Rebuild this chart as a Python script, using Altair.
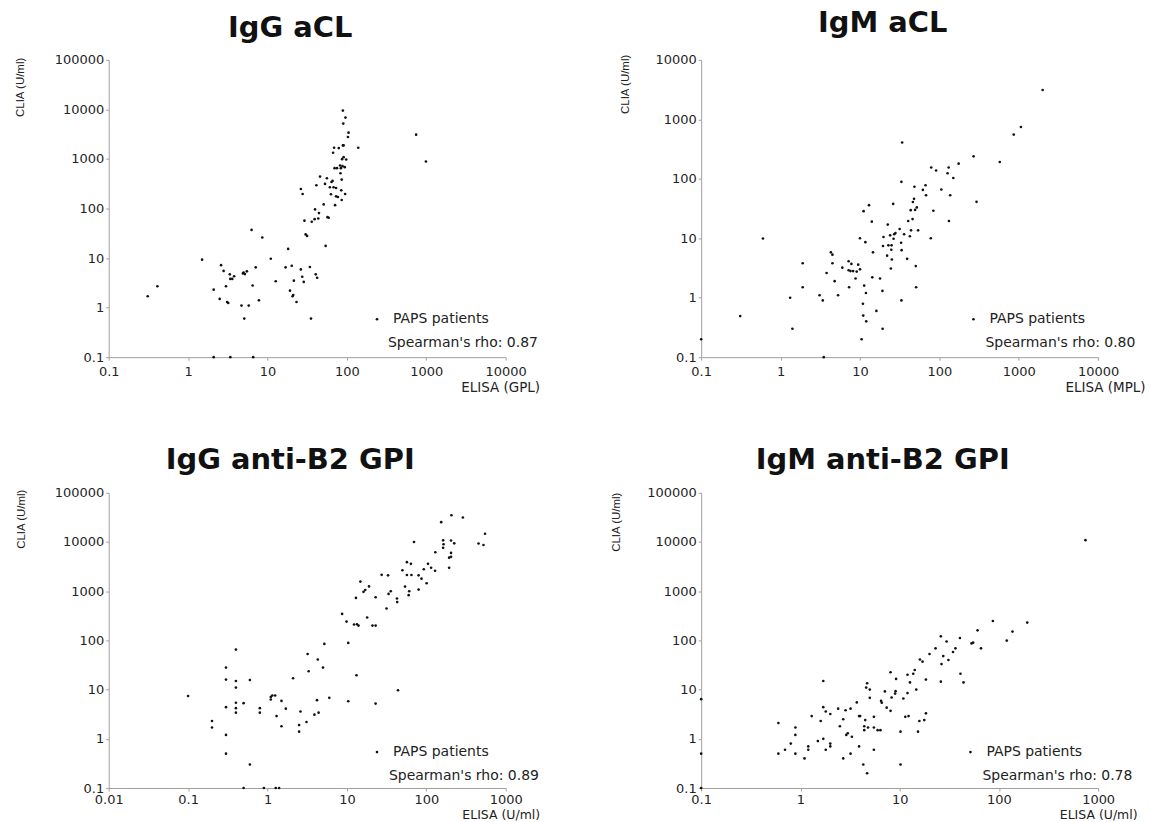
import altair as alt
import pandas as pd

# ---------------- data ----------------
legend_label = "PAPS patients"
y_title = "CLIA (U/ml)"
panel_titles = ["IgG aCL", "IgM aCL", "IgG anti-B2 GPI", "IgM anti-B2 GPI"]
x_titles = ["ELISA (GPL)", "ELISA (MPL)", "ELISA (U/ml)", "ELISA (U/ml)"]
rho_labels = ["Spearman's rho: 0.87", "Spearman's rho: 0.80",
              "Spearman's rho: 0.89", "Spearman's rho: 0.78"]

x_ticks_1 = [0.1, 1, 10, 100, 1000, 10000]
x_ticks_2 = [0.1, 1, 10, 100, 1000, 10000]
x_ticks_3 = [0.01, 0.1, 1, 10, 100, 1000]
x_ticks_4 = [0.1, 1, 10, 100, 1000]
y_ticks_1 = [0.1, 1, 10, 100, 1000, 10000, 100000]
y_ticks_2 = [0.1, 1, 10, 100, 1000, 10000]
y_ticks_3 = [0.1, 1, 10, 100, 1000, 10000, 100000]
y_ticks_4 = [0.1, 1, 10, 100, 1000, 10000, 100000]

igg_acl_elisa = [0.31, 0.41, 1.5, 2.1, 2.5, 2.6, 2.8, 3.0, 3.1, 3.2,
                 3.35, 3.4, 3.6, 3.8, 4.7, 4.9, 5.0, 5.2, 5.5, 5.8,
                 5.1, 6.3, 6.5, 6.6, 7.1, 7.8, 8.6, 11, 12.7, 16.9,
                 18.2, 19.2, 20.2, 20.7, 21.1, 21.5, 23.2, 26.3, 26.3, 27.7,
                 27.4, 28.6, 29.2, 30.2, 31.5, 34.2, 35.3, 36.1, 39.2, 39.7,
                 40.5, 41.3, 42.2, 43.6, 44.5, 45.9, 51, 53, 54, 56,
                 57, 59, 61, 63, 64, 66, 67, 68, 69, 70,
                 71, 73, 73, 75, 77, 79, 82, 83, 84, 85,
                 86, 86, 87, 88, 89, 89, 90, 91, 91, 94,
                 95, 96, 98, 103, 105, 139, 745, 990, 2.1, 3.4]
igg_acl_clia = [1.7, 2.7, 9.3, 2.3, 1.5, 7.2, 5.5, 2.7, 1.3, 1.24,
                4.7, 3.8, 3.8, 4.3, 1.1, 4.9, 5.1, 4.75, 5.4, 1.1,
                0.6, 37, 2.8, 0.1, 6.5, 1.4, 26, 9.7, 3.4, 6.5,
                15.3, 2.2, 7.0, 1.7, 1.8, 3.5, 1.3, 248, 5.9, 197,
                4.2, 3.3, 57, 30, 28, 6.6, 0.6, 54, 61, 96,
                4.7, 295, 4.0, 63, 81, 442, 121, 314, 17.6, 409,
                67, 65, 269, 194, 344, 361, 1336, 269, 1688, 653,
                117, 176, 260, 653, 171, 1663, 739, 516, 653, 233,
                149, 384, 994, 716, 9500, 1883, 5180, 1883, 1090, 684,
                197, 6860, 979, 2780, 3400, 1688, 3100, 891, 0.1, 0.1]

igm_acl_elisa = [0.1, 0.31, 0.6, 1.32, 1.41, 1.9, 1.9, 3.1, 3.4, 3.5,
                 3.8, 4.3, 4.5, 4.5, 4.8, 5.3, 6.0, 7.2, 7.2, 7.3,
                 7.6, 7.8, 8.2, 8.8, 9.1, 9.5, 10, 10, 10.9, 11,
                 10.5, 11.1, 11.3, 11.9, 11.7, 12, 13, 14.1, 14.3, 14.6,
                 16.1, 17.9, 19.2, 19.3, 19.5, 19.8, 22, 22.4, 22.8, 24,
                 24.5, 24.8, 25, 25.2, 26.2, 26.5, 27, 28, 31.6, 33,
                 33.5, 33.3, 33.3, 34, 36, 39.3, 40.5, 42.5, 43.6, 44,
                 46, 46.4, 48, 48.5, 49.5, 50.5, 51, 52, 54, 62,
                 67, 68, 78, 79, 84, 91, 106, 127, 131, 132,
                 137, 150, 175, 270, 294, 577, 865, 1065, 2000]
igm_acl_clia = [0.2, 0.49, 9.9, 1.0, 0.3, 3.8, 1.5, 1.1, 0.9, 0.1,
                2.6, 5.8, 5.3, 3.8, 1.9, 1.1, 3.2, 4.1, 2.9, 1.5,
                2.8, 3.7, 2.8, 2.1, 2.75, 3.6, 10, 3.0, 0.79, 0.5,
                0.2, 28.6, 1.6, 1.2, 8.6, 0.4, 36, 19, 2.2, 5.8,
                0.6, 2.1, 1.3, 0.3, 7.4, 10.5, 5.1, 17, 7.6, 11.2,
                3.1, 6.4, 7.6, 4.4, 37.8, 9.8, 11.7, 12.2, 14.3, 8.4,
                6.3, 89, 0.9, 408, 11.7, 4.5, 19.5, 10.8, 29.7, 13.6,
                21, 40.8, 46, 73.6, 30, 3.4, 1.5, 33, 13.6, 65,
                78, 53, 10, 155, 29, 138, 66, 124, 155, 19.5,
                53, 103, 180, 239, 41, 192, 555, 745, 3120]

igg_gpi_elisa = [0.1, 0.2, 0.2, 0.3, 0.3, 0.3, 0.3, 0.3, 0.4, 0.4,
                 0.4, 0.4, 0.4, 0.4, 0.5, 0.5, 0.6, 0.6, 0.8, 0.8,
                 0.9, 1.1, 1.15, 1.1, 1.25, 1.27, 1.3, 1.4, 1.5, 1.5,
                 1.7, 2.1, 2.5, 2.5, 2.6, 3.1, 3.2, 3.3, 3.9, 4.2,
                 4.3, 4.4, 5.0, 5.2, 6.0, 8.7, 9.9, 10.4, 10.4, 12.3,
                 13, 13.2, 13.4, 14, 14.8, 16.2, 17, 18, 19, 21,
                 23, 23, 23, 27.4, 33, 31.6, 33.5, 35.7, 42.7, 43,
                 44, 50, 54, 57, 57, 61, 60, 64, 65, 70,
                 80, 80, 87, 93, 101, 105, 115, 129, 130, 154,
                 163, 163, 165, 194, 194, 205, 205, 205, 207, 225,
                 289, 455, 525, 550]
igg_gpi_clia = [7.4, 2.3, 1.7, 28, 16, 4.4, 1.2, 0.5, 65, 15,
                11, 5.4, 4.2, 3.4, 5.3, 0.1, 15.7, 0.3, 4.2, 3.4,
                0.1, 7.1, 7.6, 6.3, 7.6, 0.1, 2.9, 0.1, 5.9, 1.8,
                4.1, 17, 1.9, 1.4, 3.6, 2.2, 53, 23.6, 3.1, 6.1,
                41, 3.4, 28, 85, 6.8, 346, 241, 89, 5.8, 210,
                730, 19.6, 213, 200, 1570, 970, 1060, 292, 1250, 200,
                200, 755, 5.2, 2150, 2100, 444, 880, 1000, 710, 600,
                9.7, 2670, 1240, 3890, 2130, 1000, 830, 3600, 2130, 10000,
                1080, 2100, 1800, 2800, 1450, 3600, 3000, 2600, 6200, 25300,
                7600, 10800, 9000, 3000, 4800, 5000, 6000, 10700, 35000, 9400,
                31500, 9300, 8700, 14700]

igm_gpi_elisa = [0.1, 0.1, 0.1, 0.6, 0.6, 0.7, 0.8, 0.89, 0.89, 0.89,
                 1.1, 1.2, 1.2, 1.3, 1.5, 1.6, 1.7, 1.7, 1.7, 1.8,
                 1.8, 2.0, 2.0, 2.0, 2.4, 2.5, 2.7, 2.7, 2.85, 2.9,
                 3.0, 3.2, 3.2, 3.3, 3.7, 3.9, 3.9, 4.0, 4.3, 4.4,
                 4.4, 4.5, 4.6, 4.7, 4.8, 4.7, 5.0, 5.0, 5.5, 5.5,
                 5.5, 6.0, 6.4, 6.5, 6.6, 7.1, 7.4, 8.1, 8.1, 8.3,
                 9.0, 9.1, 9.2, 10.2, 10.2, 10.9, 11.4, 12, 12, 12.3,
                 12.7, 13.7, 14.2, 14.7, 15.3, 15.8, 16, 17, 17.7, 18.4,
                 18.4, 20, 23, 26, 26.4, 26, 27.5, 29.7, 31, 34.5,
                 36.5, 40.5, 41, 44, 53, 55, 61, 66, 87, 120,
                 137, 193, 745]
igm_gpi_clia = [6.4, 0.5, 0.1, 2.1, 0.5, 0.6, 0.8, 1.7, 1.2, 0.5,
                0.4, 0.7, 0.6, 2.9, 0.9, 2.3, 15, 4.4, 1.0, 3.6,
                0.6, 3.2, 0.8, 0.7, 4.1, 1.8, 2.5, 0.4, 3.8, 1.2,
                1.3, 0.5, 4.1, 1.1, 5.5, 2.9, 0.7, 2.9, 0.3, 1.8,
                1.5, 2.4, 11, 13.5, 1.7, 0.2, 10, 6.8, 1.7, 2.8,
                0.6, 1.5, 1.5, 5.9, 5.4, 9.2, 4.3, 22.5, 3.7, 6.9,
                8.3, 9.3, 16.5, 1.4, 0.3, 6.6, 2.8, 20, 8.5, 2.9,
                14, 21, 25, 10, 1.4, 2.3, 41, 37, 2.4, 3.3,
                16, 53, 69, 121, 33, 14.5, 48, 95, 40, 58,
                69, 112, 21, 14, 87, 90, 160, 69, 248, 99,
                151, 230, 10900]

# ---------------- styling ----------------
FONT = "DejaVu Sans"
PLOT_W = 398
ROW_H = [298, 296]
INK = "#111111"

panels = [
    dict(x=igg_acl_elisa, y=igg_acl_clia, xt=x_ticks_1, yt=y_ticks_1, h=ROW_H[0],
         tx=432, ty=30, tfs=13.5, lp=5, ytx=-88, yty=27, toff=11, lx=262, rx=280),
    dict(x=igm_acl_elisa, y=igm_acl_clia, xt=x_ticks_2, yt=y_ticks_2, h=ROW_H[0],
         tx=445, ty=30, tfs=13.5, lp=5, ytx=-76, yty=24, toff=16, lx=266, rx=285),
    dict(x=igg_gpi_elisa, y=igg_gpi_clia, xt=x_ticks_3, yt=y_ticks_3, h=ROW_H[1],
         tx=432, ty=27, tfs=12.5, lp=3, ytx=-87, yty=26, toff=12, lx=262, rx=281),
    dict(x=igm_gpi_elisa, y=igm_gpi_clia, xt=x_ticks_4, yt=y_ticks_4, h=ROW_H[1],
         tx=437, ty=27, tfs=12.5, lp=3, ytx=-85, yty=29, toff=12, lx=263, rx=282),
]


def make_panel(i, p):
    df = pd.DataFrame({"ELISA": p["x"], "CLIA": p["y"], "group": legend_label})
    pts = alt.Chart(df).mark_circle(size=7, opacity=1, color=INK).encode(
        x=alt.X("ELISA:Q",
                scale=alt.Scale(type="log", domain=[p["xt"][0], p["xt"][-1]], nice=False),
                axis=alt.Axis(values=p["xt"], format="~g", title=x_titles[i],
                              titleX=p["tx"], titleY=p["ty"], titleAlign="right",
                              titleBaseline="middle", titleFontSize=p["tfs"],
                              tickSize=3, labelPadding=p["lp"], labelFlush=False)),
        y=alt.Y("CLIA:Q",
                scale=alt.Scale(type="log", domain=[p["yt"][0], p["yt"][-1]], nice=False),
                axis=alt.Axis(values=p["yt"], format="~g", title=y_title,
                              titleX=p["ytx"], titleY=p["yty"], titleAngle=-90,
                              titleAlign="center", titleBaseline="middle",
                              titleFont="Liberation Sans", titleFontSize=11.5,
                              tickSize=3, labelPadding=2, labelFlush=False)),
        color=alt.Color("group:N", scale=alt.Scale(range=[INK]),
                        legend=alt.Legend(title=None, orient="none", legendX=p["lx"],
                                          legendY=253, symbolSize=7, symbolType="circle",
                                          labelOffset=9)),
    )
    txt = alt.Chart(pd.DataFrame({"t": [rho_labels[i]]})).mark_text(
        align="left", baseline="middle", font=FONT, fontSize=14, color="#222222"
    ).encode(text="t:N", x=alt.value(p["rx"]), y=alt.value(284))
    return alt.layer(pts, txt).properties(
        width=PLOT_W, height=p["h"],
        title=alt.TitleParams(panel_titles[i], offset=p["toff"], dx=-17),
    )


charts = [make_panel(i, p) for i, p in enumerate(panels)]

chart = alt.concat(
    *charts, columns=2, spacing={"row": 136, "column": 196}, bounds="flush"
).resolve_scale(color="independent").resolve_legend(color="independent").properties(
    padding={"left": 15, "top": 7, "right": 5, "bottom": 5},
    background="white",
).configure_view(stroke=None).configure_axis(
    grid=False, domainColor="#a0a0a0", tickColor="#a0a0a0", domainWidth=1,
    labelColor="#222222", labelFont=FONT, labelFontSize=13,
    titleFont=FONT, titleFontWeight="normal", titleColor="#222222",
).configure_title(
    font=FONT, fontSize=29, fontWeight="bold", color=INK, anchor="middle", frame="group",
).configure_legend(
    labelFont=FONT, labelFontSize=14, labelColor="#222222", padding=0,
)

chart.save("out.html", embed_options={"renderer": "svg", "actions": False})
